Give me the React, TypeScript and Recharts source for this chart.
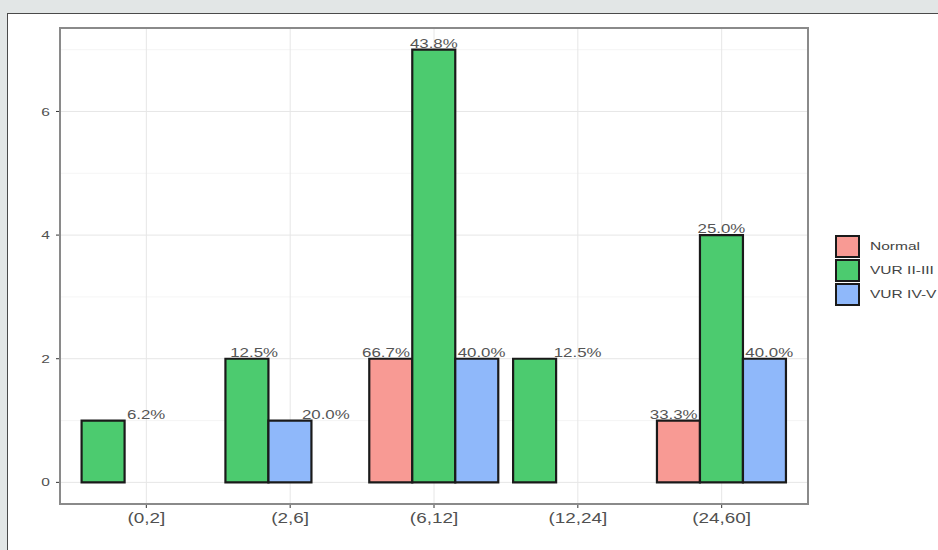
import React from 'react';
import {
  BarChart,
  Bar,
  Cell,
  XAxis,
  YAxis,
  CartesianGrid,
  LabelList,
} from 'recharts';

// age groups (months) on the x axis
const categories = ['(0,2]', '(2,6]', '(6,12]', '(12,24]', '(24,60]'];

// counts per group, null = no bar
const normal = [null, null, 2, null, 1];
const vurII = [1, 2, 7, 2, 4];
const vurIV = [null, 1, 2, null, 2];

// percentages printed above the bars
const normalPct = [null, null, '66.7%', null, '33.3%'];
const vurIIPct = ['6.2%', '12.5%', '43.8%', '12.5%', '25.0%'];
const vurIVPct = [null, '20.0%', '40.0%', null, '40.0%'];

const yTicks = [0, 2, 4, 6];
const yMinor = [1, 3, 5, 7];
const yDomain = [-0.35, 7.35];

const series = [
  { name: 'Normal', color: '#f89a94', values: normal, pct: normalPct },
  { name: 'VUR II-III', color: '#4ccb6f', values: vurII, pct: vurIIPct },
  { name: 'VUR IV-V', color: '#8fb8fa', values: vurIV, pct: vurIVPct },
];

const font = '"Liberation Sans", Arial, Helvetica, sans-serif';
const textGrey = '#505050';
const edge = '#8a8a8a';
// the source image is stretched sideways, so text is widened to match
const stretch = 1.35;

// plot box (matches chart margins + y axis width below)
const plot = { left: 60, top: 28, width: 748, height: 476 };

// ggplot dodge(preserve = "single") packs bars from the left of each group,
// so build slot columns s0..s2 holding whichever series are present
const table = categories.map((cat, i) => {
  const present = series.filter((s) => s.values[i] != null);
  const row: any = { cat };
  present.forEach((s, k) => {
    row[`s${k}`] = s.values[i];
    row[`c${k}`] = s.color;
    row[`t${k}`] = { text: s.pct[i], n: present.length };
  });
  return row;
});

const slots = [0, 1, 2];

// text labels use a full-band dodge, so shift them off the bar centres
const makeLabel = (s: number) => (props: any) => {
  const v = props.value;
  if (!v || !v.text) return null;
  const vb = props.viewBox || {};
  const x = Number(props.x ?? vb.x);
  const y = Number(props.y ?? vb.y);
  const w = Number(props.width ?? vb.width);
  const band = w / 0.3;
  const catCenter = x + w * (1.5 - s);
  const cx = catCenter + band * ((s + 0.5) / v.n - 0.5);
  return (
    <g transform={`translate(${cx},${y - 2})`}>
      <text
        transform={`scale(${stretch},1)`}
        textAnchor="middle"
        fontSize={12.5}
        fontFamily={font}
        fill="#555"
      >
        {v.text}
      </text>
    </g>
  );
};

const XTick = (props: any) => {
  const { x, y, payload } = props;
  return (
    <g transform={`translate(${x},${y})`}>
      <text
        transform={`scale(${stretch},1)`}
        dy="0.71em"
        textAnchor="middle"
        fontSize={14}
        fontFamily={font}
        fill={textGrey}
      >
        {payload.value}
      </text>
    </g>
  );
};

const YTick = (props: any) => {
  const { x, y, payload } = props;
  return (
    <g transform={`translate(${x},${y})`}>
      <text
        transform={`scale(${stretch},1)`}
        dy="0.355em"
        textAnchor="end"
        fontSize={11.5}
        fontFamily={font}
        fill={textGrey}
      >
        {payload.value}
      </text>
    </g>
  );
};

const Legend = () => (
  <div
    style={{
      position: 'absolute',
      left: 835,
      top: 234,
      fontFamily: font,
      fontSize: 11.5,
      color: '#444',
    }}
  >
    {series.map((s) => (
      <div
        key={s.name}
        style={{ display: 'flex', alignItems: 'center', height: 24 }}
      >
        <div
          style={{
            width: 21,
            height: 19,
            background: s.color,
            border: '2px solid #1a1a1a',
          }}
        />
        <span
          style={{
            marginLeft: 10,
            display: 'inline-block',
            whiteSpace: 'nowrap',
            transform: `scaleX(${stretch})`,
            transformOrigin: 'left center',
          }}
        >
          {s.name}
        </span>
      </div>
    ))}
  </div>
);

export default function App() {
  return (
    <div
      style={{
        position: 'fixed',
        left: 0,
        top: 0,
        width: 938,
        height: 550,
        background: '#e2e6e6',
        overflow: 'hidden',
        fontFamily: font,
      }}
    >
      <div
        style={{
          position: 'absolute',
          left: 7,
          top: 13,
          width: 950,
          height: 560,
          background: '#fff',
          borderTop: '1px solid #4a4a4a',
          borderLeft: '1px solid #4a4a4a',
        }}
      />
      <div style={{ position: 'absolute', left: 0, top: 0 }}>
        <BarChart
          width={938}
          height={550}
          data={table}
          margin={{ top: plot.top, right: 938 - plot.left - plot.width, bottom: 16, left: 0 }}
          barCategoryGap="5%"
          barGap={0}
        >
          <CartesianGrid
            vertical={false}
            horizontalValues={yMinor}
            stroke="#f3f3f3"
            strokeWidth={0.8}
          />
          <CartesianGrid stroke="#e6e6e6" strokeWidth={1} />
          <XAxis
            dataKey="cat"
            padding={{ left: 14.4, right: 14.4 }}
            height={30}
            tickSize={4}
            tickMargin={5}
            tick={<XTick />}
            tickLine={{ stroke: '#333' }}
            axisLine={false}
          />
          <YAxis
            type="number"
            domain={yDomain}
            ticks={yTicks}
            allowDataOverflow
            width={plot.left}
            tickSize={4}
            tickMargin={6}
            tick={<YTick />}
            tickLine={{ stroke: '#333' }}
            axisLine={false}
          />
          {slots.map((s) => (
            <Bar
              key={s}
              dataKey={`s${s}`}
              stroke="#1a1a1a"
              strokeWidth={2.2}
              isAnimationActive={false}
            >
              {table.map((row, i) => (
                <Cell key={i} fill={row[`c${s}`] || '#ccc'} />
              ))}
              <LabelList dataKey={`t${s}`} content={makeLabel(s)} />
            </Bar>
          ))}
        </BarChart>
      </div>
      {/* panel border like theme_bw */}
      <div
        style={{
          position: 'absolute',
          left: plot.left - 1,
          top: plot.top - 1,
          width: plot.width + 2,
          height: plot.height + 2,
          boxSizing: 'border-box',
          border: `2px solid ${edge}`,
          pointerEvents: 'none',
        }}
      />
      <Legend />
    </div>
  );
}
